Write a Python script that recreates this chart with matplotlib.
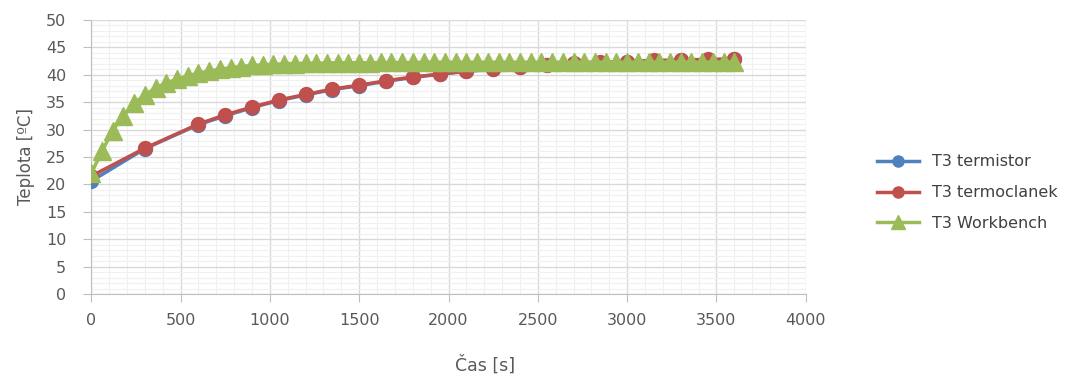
import matplotlib.pyplot as plt
from matplotlib.ticker import MultipleLocator

# measured every 150 s (300 s at the start)
t_meas = [0, 300, 600, 750, 900, 1050, 1200, 1350, 1500, 1650, 1800, 1950,
          2100, 2250, 2400, 2550, 2700, 2850, 3000, 3150, 3300, 3450, 3600]
termistor = [20.6, 26.5, 30.9, 32.5, 34.0, 35.3, 36.3, 37.3, 38.0, 38.8, 39.5, 40.1,
             40.6, 41.0, 41.4, 41.7, 42.0, 42.2, 42.3, 42.5, 42.6, 42.7, 42.8]
termoclanek = [21.5, 26.6, 31.0, 32.7, 34.1, 35.4, 36.4, 37.4, 38.1, 38.9, 39.6, 40.1,
               40.7, 41.1, 41.5, 41.8, 42.1, 42.3, 42.4, 42.6, 42.7, 42.8, 42.9]

# Workbench simulation, every 60 s
t_wb = list(range(0, 3601, 60))
workbench = [22.0, 26.0, 29.8, 32.5, 34.8, 36.3, 37.6, 38.5, 39.2, 39.8,
             40.3, 40.7, 41.0, 41.3, 41.5, 41.7, 41.8, 41.9, 42.0, 42.05,
             42.1, 42.1, 42.15, 42.2, 42.2, 42.2, 42.2, 42.25, 42.25, 42.25,
             42.25, 42.3, 42.3, 42.3, 42.3, 42.3, 42.3, 42.3, 42.3, 42.3,
             42.3, 42.3, 42.3, 42.3, 42.3, 42.3, 42.3, 42.3, 42.3, 42.3,
             42.3, 42.3, 42.3, 42.3, 42.3, 42.3, 42.3, 42.3, 42.3, 42.3,
             42.3]

plt.rcParams['font.family'] = ['DejaVu Sans']

fig = plt.figure(figsize=(10.86, 3.76), dpi=100)
ax = fig.add_axes([0.084, 0.218, 0.658, 0.729])

ax.plot(t_meas, termistor, color="#4F81BD", lw=2.5, marker="o", ms=10, label="T3 termistor", zorder=3)
ax.plot(t_meas, termoclanek, color="#C0504D", lw=2.5, marker="o", ms=10, label="T3 termoclanek", zorder=4)
ax.plot(t_wb, workbench, color="#9BBB59", lw=2.5, marker="^", ms=13, label="T3 Workbench", zorder=5)

ax.set_xlim(0, 4000)
ax.set_ylim(0, 50)
ax.xaxis.set_major_locator(MultipleLocator(500))
ax.xaxis.set_minor_locator(MultipleLocator(100))
ax.yaxis.set_major_locator(MultipleLocator(5))
ax.yaxis.set_minor_locator(MultipleLocator(1))
ax.grid(which="major", color="#D9D9D9", lw=1)
ax.grid(which="minor", color="#F0F0F0", lw=0.8)
ax.set_axisbelow(True)

for s in ["top", "right"]:
    ax.spines[s].set_visible(False)
for s in ["left", "bottom"]:
    ax.spines[s].set_color("#BFBFBF")
ax.tick_params(which="major", length=6, color="#BFBFBF", labelcolor="#595959", labelsize=11.5)
ax.tick_params(which="minor", length=0)
ax.tick_params(axis="x", pad=8)
ax.tick_params(axis="y", pad=12)

ax.set_ylabel("Teplota [ºC]", fontsize=12, color="#595959", labelpad=8,
              family=["Liberation Sans Narrow", "DejaVu Sans"])
fig.text(485 / 1086, 1 - 365 / 376, "Čas [s]", fontsize=12.5, color="#595959", ha="center", va="center")

leg = ax.legend(loc="center left", bbox_to_anchor=(1.08, 0.37), frameon=False, fontsize=11.5,
                labelcolor="#404040", handlelength=2.6, labelspacing=1.0, markerscale=0.8)

fig.savefig("out.png", dpi=100)
